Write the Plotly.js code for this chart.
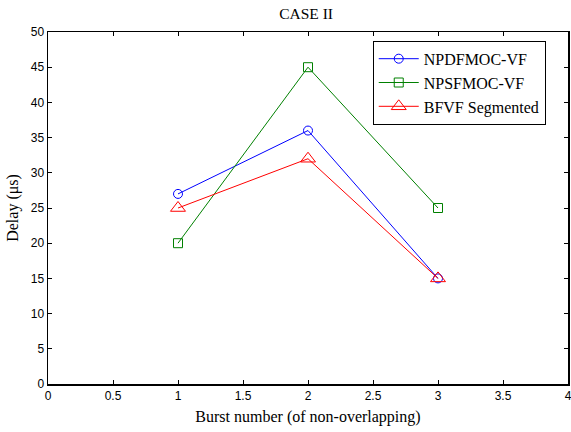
<!DOCTYPE html>
<html><head><meta charset="utf-8">
<script src="https://cdn.plot.ly/plotly-3.0.1.min.js"></script>
<style>body{margin:0;background:#fff}#c{width:571px;height:432px}</style>
</head><body><div id="c"></div>
<script>
const burst = [1, 2, 3];
const npdfmoc = [27, 36, 15];
const npsfmoc = [20, 45, 25];
const bfvf = [25, 32, 15];
const names = ['NPDFMOC-VF', 'NPSFMOC-VF', 'BFVF Segmented'];

const traces = [
  {x: burst, y: npdfmoc, name: names[0], mode: 'lines+markers',
   line: {color: '#0000ff', width: 1}, marker: {symbol: 'circle-open', size: 9, color: '#0000ff', line: {width: 1}}},
  {x: burst, y: npsfmoc, name: names[1], mode: 'lines+markers',
   line: {color: '#008000', width: 1}, marker: {symbol: 'square-open', size: 9, color: '#008000', line: {width: 1}}},
  {x: burst, y: bfvf, name: names[2], mode: 'lines+markers',
   line: {color: '#ff0000', width: 1}, marker: {symbol: 'triangle-up-open', size: 13, color: '#ff0000', line: {width: 1}}}
];
const serif = 'Liberation Serif, Times New Roman, serif';
const axisCommon = {
  showline: true, linecolor: '#000', linewidth: 1.5, mirror: 'ticks',
  ticks: 'inside', ticklen: 4, tickcolor: '#000', showgrid: false, zeroline: false,
  ticklabeloverflow: 'allow',
  tickfont: {family: 'Liberation Sans, Arial', size: 12, color: '#000'}
};
const layout = {
  width: 571, height: 432,
  margin: {l: 47.5, r: 3, t: 32, b: 48},
  paper_bgcolor: '#fff', plot_bgcolor: '#fff',
  title: {text: 'CASE II', font: {family: serif, size: 15.5, color: '#000'}, x: 0.536, xanchor: 'center', y: 0.969, yanchor: 'middle'},
  xaxis: Object.assign({}, axisCommon, {range: [0, 4], dtick: 0.5,
    title: {text: 'Burst number (of non-overlapping)', font: {family: serif, size: 16, color: '#000'}, standoff: 9}}),
  yaxis: Object.assign({}, axisCommon, {range: [0, 50], dtick: 5,
    title: {text: 'Delay (μs)', font: {family: serif, size: 16, color: '#000'}, standoff: 8}}),
  showlegend: true,
  legend: {x: 0.6245, y: 0.975, xanchor: 'left', yanchor: 'top', bgcolor: '#fff', bordercolor: '#000', borderwidth: 1,
    itemwidth: 40,
    font: {family: serif, size: 16, color: '#000'}, tracegroupgap: 0}
};
Plotly.newPlot('c', traces, layout, {displayModeBar: false, staticPlot: true});
</script></body></html>
